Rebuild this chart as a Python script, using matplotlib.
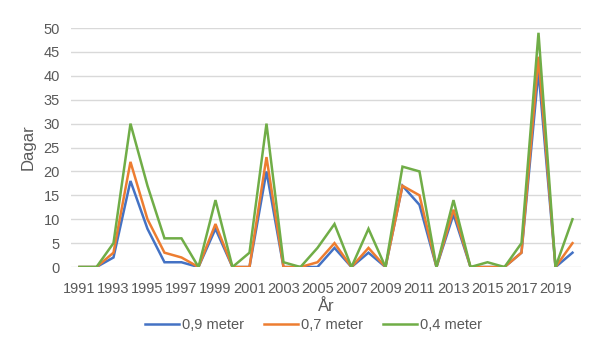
import numpy as np
import matplotlib.pyplot as plt

years = list(range(1991, 2021))
d09 = [0, 0, 2, 18, 8, 1, 1, 0, 8, 0, 0, 20, 0, 0, 0, 4, 0, 3, 0, 17,
       13, 0, 11, 0, 0, 0, 3, 41, 0, 3]
d07 = [0, 0, 3, 22, 10, 3, 2, 0, 9, 0, 0, 23, 0, 0, 1, 5, 0, 4, 0, 17,
       15, 0, 12, 0, 0, 0, 3, 44, 0, 5]
d04 = [0, 0, 5, 30, 17, 6, 6, 0, 14, 0, 3, 30, 1, 0, 4, 9, 0, 8, 0, 21,
       20, 0, 14, 0, 1, 0, 5, 49, 0, 10]
series_names = ['0,9 meter', '0,7 meter', '0,4 meter']
colors = ['#4472C4', '#ED7D31', '#70AD47']

plt.rcParams['font.family'] = ['Liberation Sans', 'DejaVu Sans']
grey = '#595959'

fig = plt.figure(figsize=(6.03, 3.45), dpi=100)
ax = fig.add_axes([0.1177, 0.226, 0.8458, 0.6928])

for data, name, c in zip([d09, d07, d04], series_names, colors):
    ax.plot(years, data, color=c, lw=1.8, label=name, solid_joinstyle='miter')

ax.set_xlim(years[0] - 0.5, years[-1] + 0.5)
ax.set_ylim(0, 50)
ax.set_yticks(np.arange(0, 51, 5))
ax.set_xticks(years[::2])
ax.grid(axis='y', color='#D9D9D9', lw=1)
ax.set_axisbelow(True)
for s in ax.spines.values():
    s.set_visible(False)
ax.tick_params(length=0, colors=grey, labelsize=10.5)
ax.tick_params(axis='x', pad=11)
ax.tick_params(axis='y', pad=8)
ax.set_xlabel('År', color=grey, fontsize=12, labelpad=2)
ax.set_ylabel('Dagar', color=grey, fontsize=12, labelpad=6)

leg = fig.legend(loc='center', bbox_to_anchor=(0.52, 0.058), ncol=3,
                 frameon=False, fontsize=10.5, handlelength=2.3,
                 columnspacing=1.4, handletextpad=0.2)
for t in leg.get_texts():
    t.set_color(grey)

fig.savefig('out.png', dpi=100)
